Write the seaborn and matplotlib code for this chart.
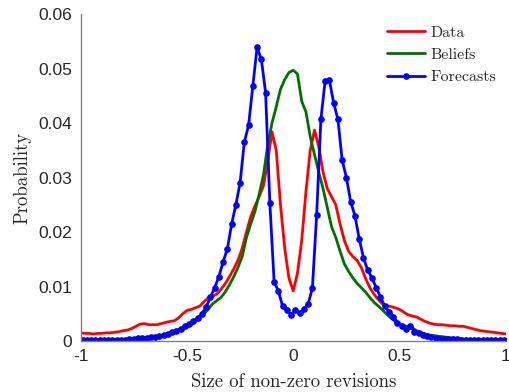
import numpy as np
import matplotlib
matplotlib.use("Agg")
import matplotlib.pyplot as plt
import seaborn as sns

# ---- data ----
x_even = np.round(np.arange(-1.0, 1.0001, 0.02), 2)   # grid for Data / Beliefs
x_odd = np.round(np.arange(-0.99, 0.99001, 0.02), 2)  # grid for Forecasts

data_vals = [
    0.0015, 0.0014, 0.0014, 0.0013, 0.0014, 0.0014, 0.0015, 0.0015, 0.0016, 0.0017,
    0.0019, 0.0020, 0.0023, 0.0027, 0.0031, 0.0032, 0.0030, 0.0030, 0.0030, 0.0032,
    0.0034, 0.0036, 0.0037, 0.0042, 0.0050, 0.0056, 0.0058, 0.0061, 0.0064, 0.0072,
    0.0079, 0.0082, 0.0086, 0.0095, 0.0105, 0.0118, 0.0132, 0.0148, 0.0170, 0.0200,
    0.0228, 0.0248, 0.0265, 0.0285, 0.0330, 0.0384, 0.0350, 0.0250, 0.0170, 0.0115,
    0.0092,
    0.0125, 0.0185, 0.0275, 0.0350, 0.0387, 0.0357, 0.0310, 0.0280, 0.0265, 0.0250,
    0.0215, 0.0185, 0.0165, 0.0155, 0.0148, 0.0135, 0.0115, 0.0098, 0.0086, 0.0076,
    0.0068, 0.0065, 0.0063, 0.0061, 0.0058, 0.0053, 0.0048, 0.0046, 0.0044, 0.0040,
    0.0036, 0.0033, 0.0031, 0.0030, 0.0030, 0.0029, 0.0028, 0.0028, 0.0027, 0.0027,
    0.0025, 0.0023, 0.0021, 0.0019, 0.0018, 0.0017, 0.0016, 0.0015, 0.0014, 0.0013,
]

beliefs_vals = [
    0.0001, 0.0001, 0.0001, 0.0001, 0.0001, 0.0001, 0.0001, 0.0001, 0.0001, 0.0001,
    0.0001, 0.0002, 0.0002, 0.0003, 0.0004, 0.0005, 0.0006, 0.0007, 0.0008, 0.0010,
    0.0012, 0.0014, 0.0017, 0.0020, 0.0023, 0.0026, 0.0030, 0.0036, 0.0043, 0.0050,
    0.0058, 0.0068, 0.0074, 0.0080, 0.0090, 0.0103, 0.0118, 0.0135, 0.0155, 0.0190,
    0.0215, 0.0238, 0.0270, 0.0305, 0.0360, 0.0400, 0.0430, 0.0462, 0.0480, 0.0493,
    0.0497,
    0.0490, 0.0440, 0.0420, 0.0375, 0.0342, 0.0310, 0.0280, 0.0245, 0.0210, 0.0190,
    0.0165, 0.0142, 0.0128, 0.0116, 0.0106, 0.0098, 0.0090, 0.0080, 0.0071, 0.0064,
    0.0057, 0.0049, 0.0042, 0.0036, 0.0031, 0.0028, 0.0027, 0.0024, 0.0019, 0.0016,
    0.0013, 0.0011, 0.0010, 0.0009, 0.0008, 0.0007, 0.0006, 0.0005, 0.0004, 0.0004,
    0.0003, 0.0003, 0.0003, 0.0003, 0.0003, 0.0002, 0.0002, 0.0002, 0.0002, 0.0002,
]

forecast_vals = [
    0.0001, 0.0001, 0.0001, 0.0001, 0.0001, 0.0001, 0.0001, 0.0001, 0.0002, 0.0002,
    0.0002, 0.0003, 0.0004, 0.0005, 0.0005, 0.0006, 0.0007, 0.0008, 0.0009, 0.0011,
    0.0013, 0.0016, 0.0019, 0.0023, 0.0027, 0.0032, 0.0036, 0.0042, 0.0050, 0.0062,
    0.0080, 0.0097, 0.0118, 0.0145, 0.0169, 0.0214, 0.0250, 0.0290, 0.0365, 0.0396,
    0.0468, 0.0539, 0.0517, 0.0456, 0.0253, 0.0109, 0.0092, 0.0064, 0.0057, 0.0048,
    0.0057, 0.0051, 0.0058, 0.0068, 0.0097, 0.0231, 0.0407, 0.0478, 0.0479, 0.0437,
    0.0407, 0.0332, 0.0300, 0.0256, 0.0230, 0.0188, 0.0153, 0.0130, 0.0116, 0.0098,
    0.0081, 0.0064, 0.0054, 0.0045, 0.0034, 0.0028, 0.0023, 0.0028, 0.0017, 0.0014,
    0.0011, 0.0009, 0.0007, 0.0005, 0.0004, 0.0003, 0.0003, 0.0003, 0.0003, 0.0002,
    0.0002, 0.0002, 0.0002, 0.0002, 0.0002, 0.0002, 0.0002, 0.0002, 0.0002, 0.0002,
]

x_ticks = [-1, -0.5, 0, 0.5, 1]
x_tick_labels = ["-1", "-0.5", "0", "0.5", "1"]
y_ticks = [0, 0.01, 0.02, 0.03, 0.04, 0.05, 0.06]
y_tick_labels = ["0", "0.01", "0.02", "0.03", "0.04", "0.05", "0.06"]

sns.set_style("white")
plt.rcParams["font.family"] = ["Liberation Sans", "DejaVu Sans"]
plt.rcParams["axes.unicode_minus"] = False

fig = plt.figure(figsize=(5.10, 3.92), dpi=100)
ax = fig.add_axes([0.158, 0.130, 0.834, 0.834])

sns.lineplot(x=x_even, y=data_vals, color="#ff0000", lw=2.0, label="Data", ax=ax)
sns.lineplot(x=x_even, y=beliefs_vals, color="#007000", lw=2.0, label="Beliefs", ax=ax)
sns.lineplot(x=x_odd, y=forecast_vals, color="#0000ff", lw=2.0, marker="o",
             markersize=4.8, markeredgewidth=0, label="Forecasts", ax=ax)

ax.set_xlim(-1, 1)
ax.set_ylim(0, 0.06)
ax.set_xticks(x_ticks)
ax.set_xticklabels(x_tick_labels)
ax.set_yticks(y_ticks)
ax.set_yticklabels(y_tick_labels)
ax.tick_params(direction="in", length=4, width=0.8, colors="#262626",
               labelsize=12.5, pad=6)
for s in ["top", "right"]:
    ax.spines[s].set_visible(False)
for s in ["left", "bottom"]:
    ax.spines[s].set_color("#808080")
    ax.spines[s].set_linewidth(1.0)

ax.set_xlabel("Size of non-zero revisions", fontfamily="cmr10", fontsize=13.5,
              color="#262626", labelpad=6)
ax.set_ylabel("Probability", fontfamily="cmr10", fontsize=13.5,
              color="#262626", labelpad=5)

leg = ax.legend(loc="upper right", frameon=False, prop={"family": "cmr10", "size": 11.5},
                handlelength=2.4, handletextpad=0.35, labelspacing=0.52,
                bbox_to_anchor=(1.0, 0.995), borderaxespad=0.2)

fig.savefig("out.png", dpi=100)
